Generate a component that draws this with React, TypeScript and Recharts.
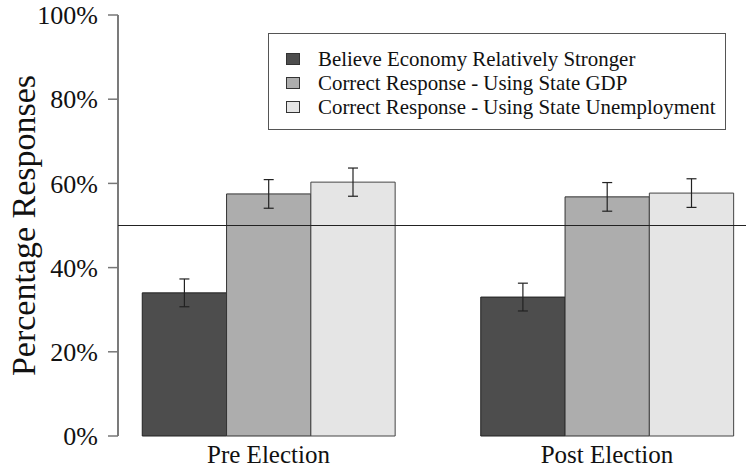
import React from 'react';
import { BarChart, Bar, XAxis, YAxis, ReferenceLine, ErrorBar, Label } from 'recharts';

const categories = ['Pre Election', 'Post Election'];
const believeValues = [34.0, 33.0];
const believeErrors = [3.3, 3.3];
const gdpValues = [57.5, 56.8];
const gdpErrors = [3.4, 3.4];
const unempValues = [60.3, 57.7];
const unempErrors = [3.35, 3.4];
const yTicks = [0, 20, 40, 60, 80, 100];

const seriesNames = [
  'Believe Economy Relatively Stronger',
  'Correct Response - Using State GDP',
  'Correct Response - Using State Unemployment',
];
const seriesColors = ['#4d4d4d', '#adadad', '#e5e5e5'];

const data = categories.map((c, i) => ({
  name: c,
  believe: believeValues[i],
  believeErr: believeErrors[i],
  gdp: gdpValues[i],
  gdpErr: gdpErrors[i],
  unemp: unempValues[i],
  unempErr: unempErrors[i],
}));

const FONT = '"Liberation Serif", "Times New Roman", serif';

const YLabel = (props: any) => {
  const vb = props.viewBox || { x: 0, y: 15, width: 118, height: 421 };
  const cx = 35;
  const cy = vb.y + vb.height / 2;
  return (
    <text
      x={cx}
      y={cy}
      transform={`rotate(-90 ${cx} ${cy})`}
      textAnchor="middle"
      style={{ fontFamily: FONT, fontSize: 34, fill: '#111' }}
    >
      Percentage Responses
    </text>
  );
};

export default function App() {
  return (
    <div style={{ position: 'absolute', left: 0, top: 0, width: 746, height: 467, background: '#fff' }}>
      <BarChart
        width={746}
        height={467}
        data={data}
        margin={{ top: 15, right: 0, bottom: 0, left: 0 }}
        barGap={0}
        barSize={84.3}
      >
        <XAxis
          dataKey="name"
          axisLine={false}
          tickLine={false}
          tickSize={0}
          tickMargin={9}
          height={31}
          padding={{ left: -18.75, right: -30.25 }}
          interval={0}
          tick={{ fontFamily: FONT, fontSize: 25, fill: '#111' }}
        />
        <YAxis
          width={118}
          domain={[0, 100]}
          ticks={yTicks}
          tickFormatter={(v: number) => `${v}%`}
          axisLine={{ stroke: '#222', strokeWidth: 1.2 }}
          tickLine={{ stroke: '#777', strokeWidth: 1.5 }}
          tickSize={10}
          tickMargin={10}
          interval={0}
          tick={{ fontFamily: FONT, fontSize: 26, fill: '#111' }}
        >
          <Label content={<YLabel />} />
        </YAxis>
        <Bar dataKey="believe" name={seriesNames[0]} fill={seriesColors[0]} stroke="#222" strokeWidth={1} isAnimationActive={false}>
          <ErrorBar dataKey="believeErr" width={5} stroke="#222" strokeWidth={1.2} direction="y" />
        </Bar>
        <Bar dataKey="gdp" name={seriesNames[1]} fill={seriesColors[1]} stroke="#333" strokeWidth={1} isAnimationActive={false}>
          <ErrorBar dataKey="gdpErr" width={5} stroke="#222" strokeWidth={1.2} direction="y" />
        </Bar>
        <Bar dataKey="unemp" name={seriesNames[2]} fill={seriesColors[2]} stroke="#444" strokeWidth={1} isAnimationActive={false}>
          <ErrorBar dataKey="unempErr" width={5} stroke="#222" strokeWidth={1.2} direction="y" />
        </Bar>
        <ReferenceLine y={50} stroke="#222" strokeWidth={1.2} ifOverflow="extendDomain" />
      </BarChart>
      <div
        style={{
          position: 'absolute',
          left: 268,
          top: 33,
          width: 458,
          height: 97,
          boxSizing: 'border-box',
          border: '1px solid #555',
          background: '#fff',
          paddingTop: 13,
          fontFamily: FONT,
          fontSize: 20.9,
          color: '#111',
        }}
      >
        {seriesNames.map((n, i) => (
          <div key={n} style={{ display: 'flex', alignItems: 'center', height: 24 }}>
            <span
              style={{
                display: 'inline-block',
                width: 14,
                height: 12,
                marginLeft: 17,
                marginRight: 18,
                background: seriesColors[i],
                border: '1px solid #333',
                boxSizing: 'border-box',
              }}
            />
            <span style={{ whiteSpace: 'nowrap' }}>{n}</span>
          </div>
        ))}
      </div>
    </div>
  );
}
